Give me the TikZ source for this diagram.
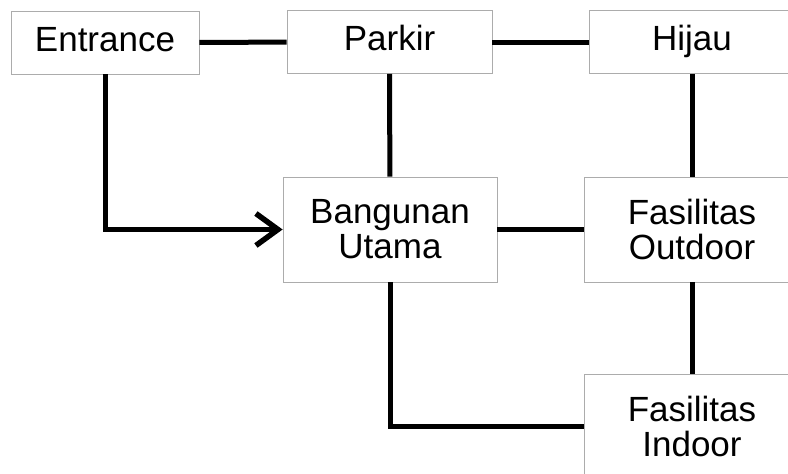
\documentclass[tikz,border=0pt]{standalone}
\usepackage{fontspec}
\setmainfont{Liberation Sans}
\usetikzlibrary{arrows.meta,positioning}

\tikzset{
  zone/.style={draw=gray!65, line width=0.8pt, inner sep=0pt, align=center,
    minimum height=63pt, font=\fontsize{35}{35}\selectfont},
  oneline/.style={text height=26pt, text depth=9pt},
  link/.style={line width=5pt},
  entry/.style={line width=5pt, -{Straight Barb[length=22pt,width=32pt,line width=5.5pt]}}
}

\begin{document}
\begin{tikzpicture}[x=1pt,y=-1pt]
\useasboundingbox (0,0) rectangle (788,474);

% top row
\node [zone, oneline, minimum width=188pt] (entrance) at (105,42.5) {Entrance};
\node [zone, oneline, minimum width=205pt] (parkir) at (389.5,42) {Parkir};
\node [zone, oneline, minimum width=206pt] (hijau) at (692,42) {Hijau};

% middle and bottom
\node [zone, minimum width=214pt, minimum height=105pt] (bangunan) at (390,229.5) {Bangunan\\Utama};
\node [zone, minimum width=216pt, minimum height=105pt] (outdoor) at (692,229.5) {Fasilitas\\Outdoor};
\node [zone, minimum width=216pt, minimum height=105pt] (indoor) at (692,426.5) {Fasilitas\\Indoor};

\draw [link] (entrance) -- (parkir);
\draw [link] (parkir) -- (hijau);
\draw [link] (parkir) -- (bangunan);
\draw [link] (hijau) -- (outdoor);
\draw [link] (bangunan) -- (outdoor);
\draw [link] (outdoor) -- (indoor);
\draw [link] (bangunan.south) |- (indoor.west);
\draw [entry] (entrance.south) |- (bangunan.west);

\end{tikzpicture}
\end{document}
